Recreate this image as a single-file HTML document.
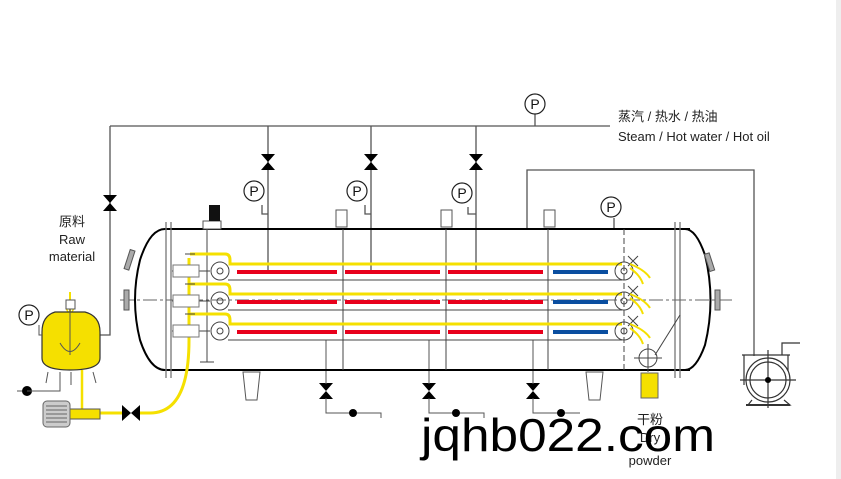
<!DOCTYPE html>
<html><head><meta charset="utf-8"><style>
html,body{margin:0;padding:0;background:#fff;}
svg{display:block;}
text{font-family:"Liberation Sans","Noto Sans CJK SC",sans-serif;}
</style></head><body>
<svg width="841" height="479" viewBox="0 0 841 479" xmlns="http://www.w3.org/2000/svg">
<rect x="836" y="0" width="5" height="479" fill="#eeeeee"/>
<g stroke="#555" stroke-width="1.3" fill="none">
<path d="M110 126 H610"/>
<path d="M535 114 V126"/>
<path d="M110 126 V335 H100"/>
<path d="M268 126 V270 M371 126 V270 M476 126 V270"/>
<path d="M262 205 V214 H268 M365 205 V214 H371 M468 207 V214 H476"/>
<path d="M527 229 V170 H754 V356"/>
<path d="M614 218 V229"/>
</g>
<g fill="#fff" stroke="#222" stroke-width="1.2">
<circle cx="535" cy="104" r="10"/>
<circle cx="254" cy="191" r="10"/>
<circle cx="357" cy="191" r="10"/>
<circle cx="462" cy="193" r="10"/>
<circle cx="611" cy="207" r="10"/>
<circle cx="29" cy="315" r="10"/>
</g>
<g font-size="14" text-anchor="middle" fill="#111">
<text x="535" y="109">P</text><text x="254" y="196">P</text><text x="357" y="196">P</text><text x="462" y="198">P</text><text x="611" y="212">P</text><text x="29" y="320">P</text>
</g>
<g fill="#000">
<path d="M261 154 H275 L268 162 Z M261 170 H275 L268 162 Z"/>
<path d="M364 154 H378 L371 162 Z M364 170 H378 L371 162 Z"/>
<path d="M469 154 H483 L476 162 Z M469 170 H483 L476 162 Z"/>
<path d="M103 195 H117 L110 203 Z M103 211 H117 L110 203 Z"/>
<path d="M319 383 H333 L326 391 Z M319 399 H333 L326 391 Z"/>
<path d="M422 383 H436 L429 391 Z M422 399 H436 L429 391 Z"/>
<path d="M526 383 H540 L533 391 Z M526 399 H540 L533 391 Z"/>
<path d="M122 405 V421 L131 413 Z M140 405 V421 L131 413 Z"/>
</g>
<g stroke="#555" stroke-width="1" fill="none">
<path d="M326 340 V384 M326 398 V413 H381 V418"/>
<path d="M429 340 V384 M429 398 V413 H484 V418"/>
<path d="M533 340 V384 M533 398 V413 H580"/>
</g>
<g fill="#000"><circle cx="353" cy="413" r="4"/><circle cx="456" cy="413" r="4"/><circle cx="561" cy="413" r="4"/><circle cx="27" cy="391" r="5"/></g>
<g stroke="#000" stroke-width="2" fill="none">
<path d="M165 229 H690"/>
<path d="M165 370 H690"/>
<path d="M165 229 Q150 229 140 260 Q130 300 140 340 Q150 370 165 370"/>
<path d="M685 229 Q696 229 705 255 Q716 300 705 345 Q696 370 685 370"/>
</g>
<g stroke="#777" stroke-width="1.3">
<path d="M166 222 V378 M171 222 V378 M675 222 V378 M680 222 V378"/>
</g>
<path d="M120 300 H735" stroke="#666" stroke-width="1" stroke-dasharray="14 3 3 3"/>
<g stroke="#444" stroke-width="1" fill="none">
<path d="M343 229 V370 M446 229 V370 M548 229 V370"/>
<path d="M624 229 V370" stroke-dasharray="6 3"/>
<path d="M207 229 V362 M200 362 H214"/>
<path d="M680 315 L655 355"/>
</g>
<rect x="127" y="250" width="5" height="20" fill="#aaa" stroke="#555" transform="rotate(18 130 260)"/>
<rect x="124" y="290" width="5" height="20" fill="#aaa" stroke="#555"/>
<rect x="707" y="253" width="5" height="18" fill="#aaa" stroke="#555" transform="rotate(-18 710 262)"/>
<rect x="715" y="290" width="5" height="20" fill="#aaa" stroke="#555"/>
<g fill="#fff" stroke="#555" stroke-width="1">
<rect x="336" y="210" width="11" height="17"/><rect x="441" y="210" width="11" height="17"/><rect x="544" y="210" width="11" height="17"/>
<rect x="203" y="221" width="18" height="8"/>
</g>
<rect x="209" y="205" width="11" height="16" fill="#111"/>
<path d="M243 372 H260 L257 400 H246 Z M586 372 H603 L600 400 H589 Z" fill="#fff" stroke="#555"/>
<g stroke="#f5e000" stroke-width="3" fill="none">
<path d="M190 254 H225 Q230 254 230 260 V264 H622"/>
<path d="M190 284 H225 Q230 284 230 290 V294 H622"/>
<path d="M190 314 H225 Q230 314 230 320 V324 H622"/>
<path d="M189 258 V340 Q189 413 150 413 H140"/>
<path d="M100 413 H122"/>
</g>
<g stroke="#e8001c" stroke-width="4">
<path d="M237 272 H337 M345 272 H440 M448 272 H543"/>
<path d="M237 302 H337 M345 302 H440 M448 302 H543"/>
<path d="M237 332 H337 M345 332 H440 M448 332 H543"/>
</g>
<g stroke="#0a4ea0" stroke-width="4">
<path d="M553 272 H608 M553 302 H608 M553 332 H608"/>
</g>
<g stroke="#444" stroke-width="1" fill="none">
<path d="M228 280 H622 M228 310 H622 M228 340 H622"/>
<circle cx="220" cy="271" r="9"/><circle cx="220" cy="301" r="9"/><circle cx="220" cy="331" r="9"/>
<circle cx="624" cy="271" r="9"/><circle cx="624" cy="301" r="9"/><circle cx="624" cy="331" r="9"/>
<circle cx="220" cy="271" r="3"/><circle cx="220" cy="301" r="3"/><circle cx="220" cy="331" r="3"/>
<circle cx="624" cy="271" r="3"/><circle cx="624" cy="301" r="3"/><circle cx="624" cy="331" r="3"/>
<path d="M172 271 H210 M172 301 H210 M172 331 H210"/>
<path d="M185 254 H195 M185 284 H195 M185 314 H195"/>
<path d="M628 256 l10 10 m0 -10 l-10 10 M628 286 l10 10 m0 -10 l-10 10 M628 316 l10 10 m0 -10 l-10 10"/>
<circle cx="648" cy="358" r="9"/><path d="M634 358 H662 M648 344 V372"/>
</g>
<g fill="#fff" stroke="#777" stroke-width="1">
<rect x="173" y="265" width="26" height="12"/><rect x="173" y="295" width="26" height="12"/><rect x="173" y="325" width="26" height="12"/>
</g>
<g stroke="#f5e000" stroke-width="2" fill="none">
<path d="M630 264 Q645 270 650 278 M630 268 Q640 275 643 284"/>
<path d="M630 294 Q645 300 650 308 M630 298 Q640 305 643 314"/>
<path d="M630 324 Q645 330 650 338 M630 328 Q640 335 643 344"/>
</g>
<rect x="641" y="373" width="17" height="25" fill="#f5e000" stroke="#666" stroke-width="1"/>
<path d="M70 292 V312" stroke="#f5e000" stroke-width="2"/>
<path d="M66 308 L70 316 L74 308" stroke="#f5e000" fill="none" stroke-width="1.5"/>
<rect x="66" y="300" width="9" height="9" fill="#fff" stroke="#555"/>
<path d="M55 312 Q42 316 42 332 V358 Q42 370 70 370 Q100 370 100 358 V332 Q100 316 85 312 Z" fill="#f5e000" stroke="#333" stroke-width="1.2"/>
<g stroke="#555" stroke-width="1" fill="none">
<path d="M70 309 V355 M60 343 Q70 360 80 343"/>
<path d="M39 325 V335 H42"/>
<path d="M48 372 L46 383 M60 372 V385 M71 372 V385 M93 372 L96 383 M60 372 V391 H27 M17 391 H22"/>
</g>
<path d="M82 370 V410" stroke="#f5e000" stroke-width="2.5"/>
<rect x="70" y="409" width="30" height="10" fill="#f5e000" stroke="#555"/>
<rect x="43" y="401" width="27" height="26" rx="4" fill="#ccc" stroke="#666"/>
<g stroke="#666" stroke-width="1"><path d="M46 406 H67 M46 410 H67 M46 414 H67 M46 418 H67 M46 422 H67"/></g>
<g stroke="#333" stroke-width="1.2" fill="#fff">
<path d="M742 355 H790 M744 355 L744 385 M788 355 V385"/>
<circle cx="768" cy="380" r="22"/><circle cx="768" cy="380" r="18"/>
<path d="M740 380 H796 M768 350 V408" fill="none"/>
<path d="M752 400 L748 405 H790 L784 400" fill="none"/>
<path d="M746 405 H790" stroke-width="2"/>
<path d="M782 355 V343 H800" fill="none"/>
</g>
<circle cx="768" cy="380" r="3" fill="#000"/>
<g fill="#222" font-size="13">
<text x="618" y="121">蒸汽 / 热水 / 热油</text>
<text x="618" y="141">Steam / Hot water / Hot oil</text>
<text x="72" y="226" text-anchor="middle">原料</text>
<text x="72" y="244" text-anchor="middle">Raw</text>
<text x="72" y="261" text-anchor="middle">material</text>
<text x="650" y="424" text-anchor="middle">干粉</text>
<text x="650" y="442" text-anchor="middle">Dry</text>
<text x="650" y="465" text-anchor="middle">powder</text>
</g>
<text x="421" y="451" font-size="46" fill="#000" font-family="'DejaVu Sans',sans-serif" textLength="294" lengthAdjust="spacingAndGlyphs">jqhb022.com</text>
</svg>
</body></html>
